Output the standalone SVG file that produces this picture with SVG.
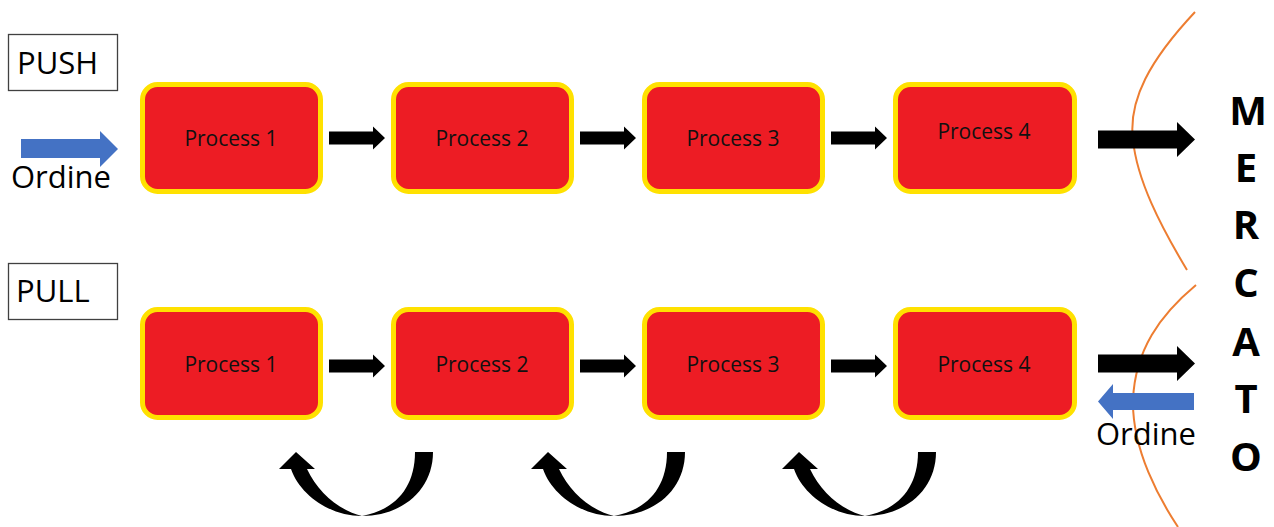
<svg xmlns="http://www.w3.org/2000/svg" xmlns:xlink="http://www.w3.org/1999/xlink" width="1274" height="527" viewBox="0 0 1274 527">
<style>
.box{fill:#ED1C24;stroke:#FFE100;stroke-width:5}
.ptxt{font-family:"Open Sans","Liberation Sans",sans-serif;font-size:21px;fill:#111;text-anchor:middle}
.lbl{fill:#fff;stroke:#404040;stroke-width:1.3}
.ltxt{font-family:"Open Sans","Liberation Sans",sans-serif;font-size:31px;fill:#000}
.otxt{font-family:"Open Sans","Liberation Sans",sans-serif;font-size:31px;fill:#000}
.mtxt{font-family:"Open Sans","Liberation Sans",sans-serif;font-size:40px;font-weight:bold;fill:#000;text-anchor:middle}
.blk{fill:#000}
.blue{fill:#4472C4}
.curve{fill:none;stroke:#ED7D31;stroke-width:2}
</style>
<defs>
<path id="sa" d="M0 -6.5 H44 V-11.5 L56 0 L44 11.5 V6.5 H0 Z"/>
<path id="ba" d="M0 -9 H79 V-17.5 L97 0 L79 17.5 V9 H0 Z"/>
<path id="ua" d="M433 452 C433 490 402 516 362 516 C330 516 300 495 291 469 L279 469 L296 452 L315 469 L307 469 C318 492 338 510 362 516 C395 510 415 488 415 452 Z"/>
</defs>
<rect width="1274" height="527" fill="#fff"/>

<g id="push-label">
<rect class="lbl" x="8.5" y="34.5" width="109" height="56"/>
<text class="ltxt" x="17" y="74">PUSH</text>
</g>
<g id="pull-label">
<rect class="lbl" x="8.5" y="263.5" width="109" height="56"/>
<text class="ltxt" x="16" y="302">PULL</text>
</g>

<g id="push-p1"><rect class="box" x="142.5" y="84.5" width="178" height="107" rx="15"/><text class="ptxt" x="231" y="146">Process 1</text></g>
<g id="push-p2"><rect class="box" x="393.5" y="84.5" width="178" height="107" rx="15"/><text class="ptxt" x="482" y="146">Process 2</text></g>
<g id="push-p3"><rect class="box" x="644.5" y="84.5" width="178" height="107" rx="15"/><text class="ptxt" x="733" y="146">Process 3</text></g>
<g id="push-p4"><rect class="box" x="895.5" y="84.5" width="179" height="107" rx="15"/><text class="ptxt" x="984" y="139">Process 4</text></g>

<g id="pull-p1"><rect class="box" x="142.5" y="309.5" width="178" height="108" rx="15"/><text class="ptxt" x="231" y="372">Process 1</text></g>
<g id="pull-p2"><rect class="box" x="393.5" y="309.5" width="178" height="108" rx="15"/><text class="ptxt" x="482" y="372">Process 2</text></g>
<g id="pull-p3"><rect class="box" x="644.5" y="309.5" width="178" height="108" rx="15"/><text class="ptxt" x="733" y="372">Process 3</text></g>
<g id="pull-p4"><rect class="box" x="895.5" y="309.5" width="179" height="108" rx="15"/><text class="ptxt" x="984" y="372">Process 4</text></g>

<g id="mercato">
<text class="mtxt" x="1248" y="125">M</text>
<text class="mtxt" x="1246" y="182">E</text>
<text class="mtxt" x="1246" y="239">R</text>
<text class="mtxt" x="1246" y="297">C</text>
<text class="mtxt" x="1246" y="356">A</text>
<text class="mtxt" x="1246" y="413">T</text>
<text class="mtxt" x="1246" y="471">O</text>
</g>

<g id="market-boundary">
<path class="curve" d="M1195 12 C1150 60 1128 100 1133 140 C1137 180 1160 225 1187 270"/>
<path class="curve" d="M1196 285 C1160 315 1135 350 1133 400 C1132 450 1160 500 1178 527"/>
</g>

<g id="connectors">
<use href="#sa" xlink:href="#sa" class="blk" x="329" y="138"/>
<use href="#sa" xlink:href="#sa" class="blk" x="580" y="138"/>
<use href="#sa" xlink:href="#sa" class="blk" x="831" y="138"/>
<use href="#sa" xlink:href="#sa" class="blk" x="329" y="366"/>
<use href="#sa" xlink:href="#sa" class="blk" x="580" y="366"/>
<use href="#sa" xlink:href="#sa" class="blk" x="831" y="366"/>
<use href="#ba" xlink:href="#ba" class="blk" x="1098" y="139.5"/>
<use href="#ba" xlink:href="#ba" class="blk" x="1098" y="363.5"/>
<path class="blue" d="M21 139 H100 V131 L118 149 L100 167 V158 H21 Z"/>
<path class="blue" d="M1194 393 H1113 V384 L1098 401.5 L1113 419 V410 H1194 Z"/>
<use href="#ua" xlink:href="#ua" class="blk"/>
<use href="#ua" xlink:href="#ua" class="blk" x="252"/>
<use href="#ua" xlink:href="#ua" class="blk" x="503"/>
<text class="otxt" x="11" y="188">Ordine</text>
<text class="otxt" x="1096" y="445">Ordine</text>
</g>
</svg>
